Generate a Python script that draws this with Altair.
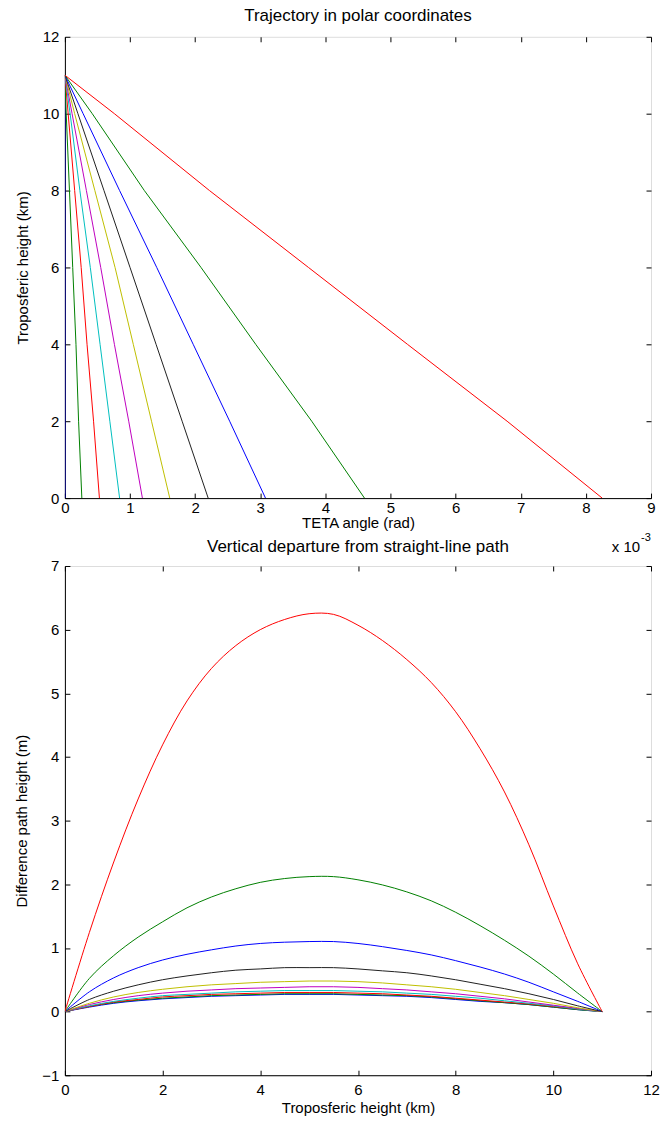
import altair as alt
import pandas as pd

FONT = "Liberation Sans"

# ---------------- data ----------------
series_ids = ["s01", "s02", "s03", "s04", "s05", "s06", "s07", "s08", "s09", "s10"]
series_colors = ["#0000ff", "#008000", "#ff0000", "#00bfbf", "#bf00bf",
                 "#bfbf00", "#202020", "#0000ff", "#008000", "#ff0000"]

# top panel: tropospheric height (km) vs TETA angle (x 1e-3 rad)
top_height_km = [11, 10, 8, 6, 4, 2, 0]
theta_s01 = [0, 0, 0, 0, 0, 0, 0]
theta_s02 = [0, 0.02, 0.07, 0.12, 0.17, 0.21, 0.26]
theta_s03 = [0, 0.05, 0.15, 0.25, 0.34, 0.44, 0.53]
theta_s04 = [0, 0.08, 0.23, 0.39, 0.54, 0.69, 0.84]
theta_s05 = [0, 0.11, 0.33, 0.55, 0.76, 0.98, 1.19]
theta_s06 = [0, 0.15, 0.46, 0.77, 1.05, 1.33, 1.61]
theta_s07 = [0, 0.20, 0.60, 1.00, 1.40, 1.80, 2.20]
theta_s08 = [0, 0.28, 0.84, 1.41, 1.97, 2.53, 3.08]
theta_s09 = [0, 0.42, 1.22, 2.09, 2.93, 3.79, 4.60]
theta_s10 = [0, 0.76, 2.22, 3.74, 5.26, 6.79, 8.25]
top_theta = [theta_s01, theta_s02, theta_s03, theta_s04, theta_s05,
             theta_s06, theta_s07, theta_s08, theta_s09, theta_s10]

# bottom panel: difference path height (m) vs tropospheric height (km)
bottom_height_km = [0, 0.5, 1, 1.5, 2, 2.5, 3, 3.5, 4, 4.5, 5, 5.5,
                    6, 6.5, 7, 7.5, 8, 8.5, 9, 9.5, 10, 10.5, 11]
dep_s01 = [0, 0.07, 0.13, 0.17, 0.20, 0.22, 0.24, 0.25, 0.26, 0.27, 0.27, 0.27,
           0.26, 0.25, 0.24, 0.22, 0.19, 0.16, 0.14, 0.11, 0.07, 0.03, 0]
dep_s02 = [0, 0.08, 0.14, 0.18, 0.21, 0.23, 0.25, 0.26, 0.27, 0.28, 0.28, 0.28,
           0.27, 0.26, 0.25, 0.23, 0.20, 0.17, 0.14, 0.11, 0.07, 0.03, 0]
dep_s03 = [0, 0.08, 0.15, 0.19, 0.23, 0.25, 0.27, 0.28, 0.29, 0.30, 0.30, 0.30,
           0.29, 0.28, 0.26, 0.24, 0.21, 0.18, 0.15, 0.12, 0.08, 0.04, 0]
dep_s04 = [0, 0.09, 0.16, 0.21, 0.25, 0.27, 0.29, 0.31, 0.32, 0.33, 0.33, 0.33,
           0.32, 0.31, 0.29, 0.27, 0.24, 0.21, 0.17, 0.13, 0.09, 0.04, 0]
dep_s05 = [0, 0.11, 0.19, 0.25, 0.29, 0.32, 0.34, 0.36, 0.37, 0.38, 0.39, 0.39,
           0.38, 0.36, 0.34, 0.31, 0.28, 0.24, 0.20, 0.15, 0.10, 0.05, 0]
dep_s06 = [0, 0.13, 0.23, 0.30, 0.35, 0.39, 0.42, 0.44, 0.46, 0.47, 0.48, 0.48,
           0.47, 0.45, 0.42, 0.39, 0.35, 0.30, 0.25, 0.19, 0.13, 0.06, 0]
dep_s07 = [0, 0.19, 0.32, 0.42, 0.50, 0.56, 0.61, 0.65, 0.67, 0.69, 0.69, 0.69,
           0.67, 0.64, 0.61, 0.56, 0.50, 0.43, 0.36, 0.28, 0.19, 0.09, 0]
dep_s08 = [0, 0.31, 0.53, 0.69, 0.81, 0.90, 0.97, 1.03, 1.07, 1.09, 1.10, 1.10,
           1.07, 1.02, 0.96, 0.89, 0.80, 0.70, 0.59, 0.46, 0.31, 0.16, 0]
dep_s09 = [0, 0.52, 0.88, 1.17, 1.41, 1.63, 1.80, 1.93, 2.03, 2.09, 2.12, 2.12,
           2.07, 1.99, 1.88, 1.74, 1.56, 1.35, 1.12, 0.87, 0.59, 0.29, 0]
dep_s10 = [0, 1.24, 2.35, 3.34, 4.19, 4.88, 5.39, 5.75, 6.00, 6.16, 6.25, 6.24,
           6.07, 5.83, 5.53, 5.17, 4.71, 4.13, 3.45, 2.62, 1.66, 0.75, 0]
bottom_dep = [dep_s01, dep_s02, dep_s03, dep_s04, dep_s05,
              dep_s06, dep_s07, dep_s08, dep_s09, dep_s10]

top_x_ticks = list(range(0, 10))
top_y_ticks = list(range(0, 13, 2))
bot_x_ticks = list(range(0, 13, 2))
bot_y_ticks = list(range(-1, 8))

# ---------------- tables ----------------
rows = []
for sid, vals in zip(series_ids, top_theta):
    for i, (h, t) in enumerate(zip(top_height_km, vals)):
        rows.append({"series": sid, "idx": i, "x": t, "y": h})
top_df = pd.DataFrame(rows)

rows = []
for sid, vals in zip(series_ids, bottom_dep):
    for i, (h, d) in enumerate(zip(bottom_height_km, vals)):
        rows.append({"series": sid, "idx": i, "x": h, "y": d})
bot_df = pd.DataFrame(rows)

W = 587
TICK = 5
LABEL_SIZE = 15
TITLE_SIZE = 17


def panel(df, xdom, ydom, xticks, yticks, xtitle, ytitle, title, height,
          title_offset, interp, xlab_pad, xtitle_pad):
    base = alt.Chart(df)
    xs = alt.Scale(domain=xdom, nice=False, zero=False)
    ys = alt.Scale(domain=ydom, nice=False, zero=False)
    color = alt.Color("series:N", legend=None,
                      scale=alt.Scale(domain=series_ids, range=series_colors))
    lines = base.mark_line(strokeWidth=1, clip=True, interpolate=interp).encode(
        x=alt.X("x:Q", scale=xs, axis=alt.Axis(
            orient="bottom", values=xticks, ticks=False, grid=False,
            title=xtitle, labelPadding=xlab_pad, titlePadding=xtitle_pad,
            domainColor="black", labelFlush=False,
            labelFontSize=LABEL_SIZE, titleFontSize=LABEL_SIZE,
            titleFontWeight="normal", labelFont=FONT, titleFont=FONT)),
        y=alt.Y("y:Q", scale=ys, axis=alt.Axis(
            orient="left", values=yticks, ticks=False, grid=False,
            title=ytitle, labelPadding=6, titlePadding=12,
            domainColor="black", labelFlush=False,
            labelFontSize=LABEL_SIZE, titleFontSize=LABEL_SIZE,
            titleFontWeight="normal", labelFont=FONT, titleFont=FONT)),
        color=color,
        order=alt.Order("idx:Q"),
    )

    def tick_layer(xo, yo):
        return base.mark_point(opacity=0).encode(
            x=alt.X("x:Q", scale=xs, axis=alt.Axis(
                orient=xo, values=xticks, tickSize=TICK, offset=-TICK,
                labels=False, domain=False, grid=False, title=None,
                tickColor="black")),
            y=alt.Y("y:Q", scale=ys, axis=alt.Axis(
                orient=yo, values=yticks, tickSize=TICK, offset=-TICK,
                labels=False, domain=False, grid=False, title=None,
                tickColor="black")),
        )

    layers = [lines, tick_layer("bottom", "left"), tick_layer("top", "right")]
    return layers, dict(width=W, height=height,
                        title=alt.TitleParams(title, fontSize=TITLE_SIZE, font=FONT,
                                              fontWeight="normal", anchor="middle",
                                              offset=title_offset, color="black"))


top_layers, top_props = panel(top_df, [0, 9], [0, 12], top_x_ticks, top_y_ticks,
                              "TETA angle (rad)", "Troposferic height (km)",
                              "Trajectory in polar coordinates", 462, 5, "linear", 2, 0)

exp_df = pd.DataFrame({"t": ["x 10"]})
exp_txt = alt.Chart(exp_df).mark_text(align="right", baseline="middle",
                                      fontSize=LABEL_SIZE, font=FONT, color="black").encode(
    x=alt.value(576), y=alt.value(462 + 49), text="t:N")
sup_df = pd.DataFrame({"t": ["-3"]})
sup_txt = alt.Chart(sup_df).mark_text(align="left", baseline="middle",
                                      fontSize=11, font=FONT, color="black").encode(
    x=alt.value(577), y=alt.value(462 + 40), text="t:N")

top = alt.layer(*top_layers, exp_txt, sup_txt).resolve_axis(
    x="independent", y="independent").properties(**top_props)

bot_layers, bot_props = panel(bot_df, [0, 12], [-1, 7], bot_x_ticks, bot_y_ticks,
                              "Troposferic height (km)", "Difference path height (m)",
                              "Vertical departure from straight-line path", 510, 3,
                              "catmull-rom", 7, 3)
bottom = alt.layer(*bot_layers).resolve_axis(
    x="independent", y="independent").properties(**bot_props)

chart = alt.vconcat(top, bottom, spacing=68, bounds="flush").properties(
    padding={"left": 14, "top": 5, "right": 5, "bottom": 5},
).configure_view(stroke="black", strokeWidth=1).configure_axis(
    labelFont=FONT, labelColor="black",
    titleFont=FONT, titleColor="black",
    titleFontWeight="normal", domainWidth=1, tickWidth=1,
).configure(background="white")

chart.save("out.html", embed_options={"renderer": "svg", "actions": False})
